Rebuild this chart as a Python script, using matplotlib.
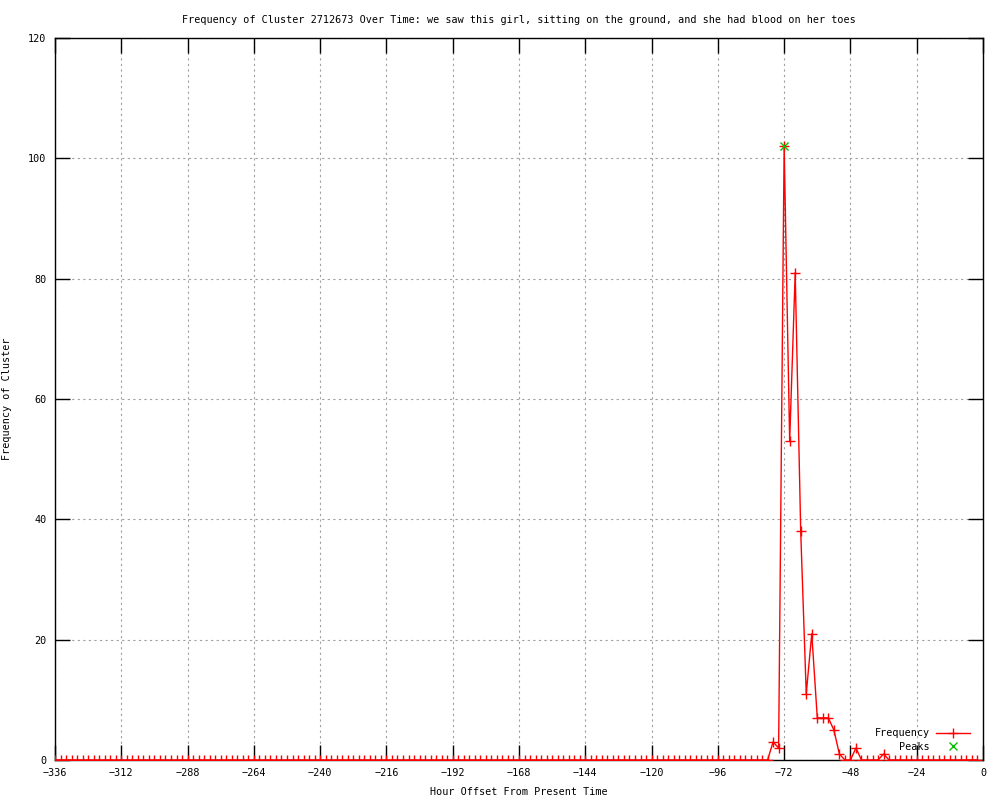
import numpy as np
import matplotlib.pyplot as plt

# Data: hourly offsets every 2 hours, mostly zero except the burst near -72
hours = list(range(-336, 0, 2))
burst = {
    -76: 3, -74: 2, -72: 102, -70: 53, -68: 81, -66: 38, -64: 11, -62: 21,
    -60: 7, -58: 7, -56: 7, -54: 5, -52: 1, -46: 2, -36: 1,
}
freq = [burst.get(h, 0) for h in hours]
peak_hours = [-72]
peak_vals = [102]

title = ("Frequency of Cluster 2712673 Over Time: we saw this girl, "
         "sitting on the ground, and she had blood on her toes")

plt.rcParams['font.family'] = 'DejaVu Sans Mono'
fs = 7.3

fig = plt.figure(figsize=(10, 8), dpi=100)
ax = fig.add_axes([0.055, 0.05, 0.928, 0.9025])

ax.plot(hours, freq, color='red', lw=1, marker='+', ms=7, mew=1,
        label='Frequency', zorder=3)
ax.plot(peak_hours, peak_vals, color='#00c000', ls='none', marker='x',
        ms=6, mew=1, label='Peaks', zorder=4)

ax.set_xlim(-336, 0)
ax.set_ylim(0, 120)
ax.set_xticks(range(-336, 1, 24))
ax.set_yticks(range(0, 121, 20))
ax.tick_params(direction='in', length=11, width=1, top=True, right=True,
               labelsize=fs, pad=6, color='black')
ax.grid(True, color='#a0a0a0', ls=(0, (2, 3)), lw=0.8)
for s in ax.spines.values():
    s.set_linewidth(1)
    s.set_color('black')

ax.set_title(title, fontsize=fs, pad=11)
ax.set_xlabel('Hour Offset From Present Time', fontsize=fs, labelpad=6)
ax.yaxis.set_label_coords(-0.046, 0.5)
ax.set_ylabel('Frequency of Cluster', fontsize=fs)

ax.legend(loc='lower right', bbox_to_anchor=(0.995, 0.0), frameon=False,
          markerfirst=False, fontsize=fs, handlelength=3.4,
          labelspacing=0.35, borderpad=0.3, handletextpad=0.6)

plt.savefig('out.png', dpi=100)
